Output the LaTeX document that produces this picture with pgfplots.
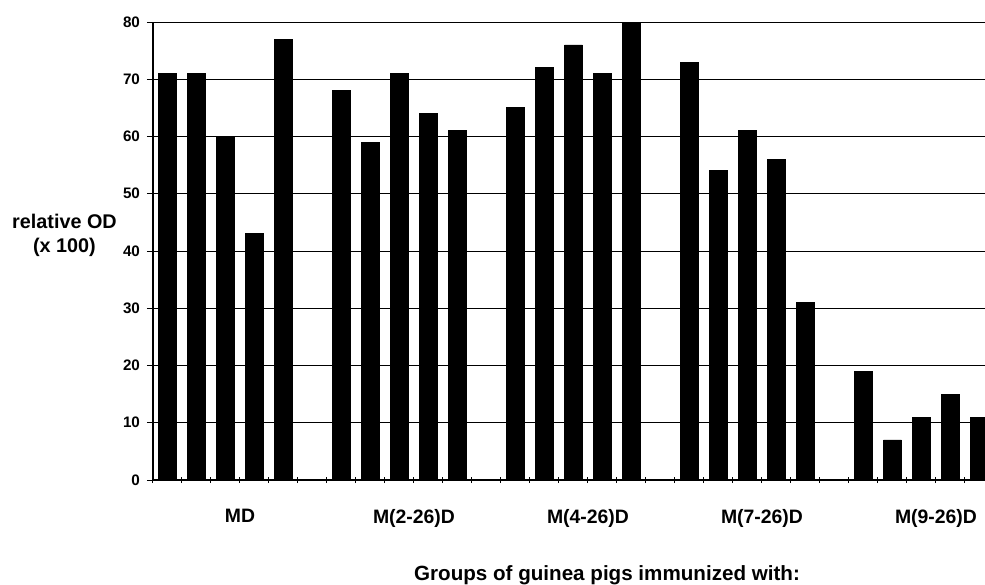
\documentclass[border=0pt]{standalone}
\usepackage{pgfplots}
\pgfplotsset{compat=1.18}
\usepackage{fontspec}
\setmainfont{Liberation Sans}
\begin{document}
\begin{tikzpicture}[x=1pt,y=1pt]
\useasboundingbox (-76.5,-52) rectangle (416,240);
\begin{axis}[
  at={(0,0)}, anchor=south west,
  scale only axis, width=416pt, height=229pt,
  xmin=-0.5, xmax=28.19, ymin=0, ymax=80,
  axis lines=left, axis line style={-, black, line width=0.6pt},
  ytick={0,10,...,80},
  ymajorgrids, grid style={black, line width=0.5pt},
  yticklabel style={font=\bfseries\fontsize{7.6}{9}\selectfont},
  /pgf/number format/assume math mode=true,
  y tick style={black, line width=0.5pt},
  ytick align=outside, 
  major tick length=3pt,
  xtick={-0.5,0.5,...,28.5},
  xticklabels={},
  x tick style={black, line width=0.5pt},
  xtick align=center,
  extra x ticks={2.5,8.5,14.5,20.5,26.5},
  extra x tick labels={MD,M(2-26)D,M(4-26)D,M(7-26)D,M(9-26)D},
  extra x tick style={major tick length=0pt, grid=none,
    xticklabel style={font=\bfseries\fontsize{9.7}{11}\selectfont, yshift=-11pt}},
  clip=true,
]
\addplot[ybar, bar width=0.62, fill=black, draw=black] coordinates {
 (0,71) (1,71) (2,60) (3,43) (4,77)
 (6,68) (7,59) (8,71) (9,64) (10,61)
 (12,65) (13,72) (14,76) (15,71) (16,80)
 (18,73) (19,54) (20,61) (21,56) (22,31)
 (24,19) (25,7) (26,11) (27,15) (28,11)
};
\end{axis}
\node[font=\bfseries\fontsize{9.9}{12}\selectfont, align=center] at (-44.25,122.5) {relative OD\\(x 100)};
\node[font=\bfseries\fontsize{10.3}{12}\selectfont] at (227,-47.5) {Groups of guinea pigs immunized with:};
\end{tikzpicture}
\end{document}
